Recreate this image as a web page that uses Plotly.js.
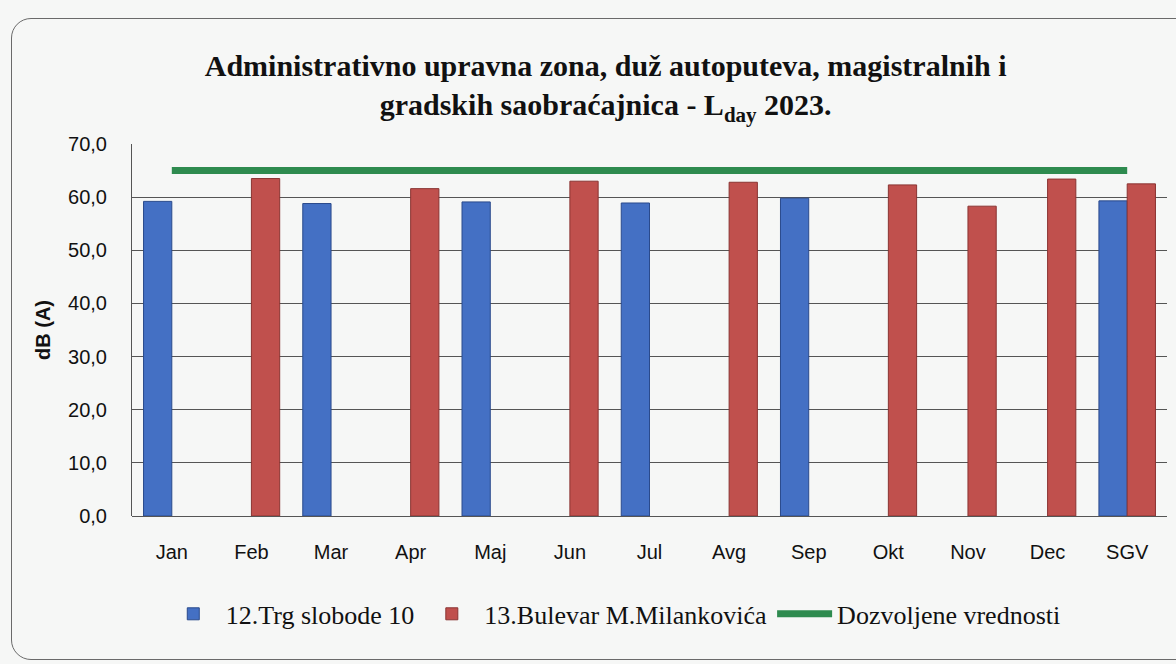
<!DOCTYPE html>
<html>
<head>
<meta charset="utf-8">
<script src="https://cdn.plot.ly/plotly-3.0.1.min.js"></script>
<style>
html,body{margin:0;padding:0;background:#f6f7f6;}
#frame{position:absolute;left:11px;top:18px;width:1220px;height:640px;border:1.5px solid #6a6a6a;border-radius:20px;}
#chart{position:absolute;left:0;top:0;width:1176px;height:664px;}
</style>
</head>
<body>
<div id="frame"></div>
<div id="chart"></div>
<script>
const categories = ["Jan","Feb","Mar","Apr","Maj","Jun","Jul","Avg","Sep","Okt","Nov","Dec","SGV"];
const trgSlobode = [59.2, null, 58.8, null, 59.1, null, 58.9, null, 59.8, null, null, null, 59.3];
const bulevar = [null, 63.5, null, 61.6, null, 63.0, null, 62.8, null, 62.3, 58.3, 63.4, 62.5];
const dozvoljene = [65,65,65,65,65,65,65,65,65,65,65,65,65];
const seriesNames = ["12.Trg slobode 10", "13.Bulevar M.Milankovića", "Dozvoljene vrednosti"];

const traces = [
  {type:"bar", name:seriesNames[0], x:categories, y:trgSlobode,
   marker:{color:"#4470c4", line:{color:"#2a4a8c", width:1}}},
  {type:"bar", name:seriesNames[1], x:categories, y:bulevar,
   marker:{color:"#c0504d", line:{color:"#8a3432", width:1}}},
  {type:"scatter", mode:"lines", name:seriesNames[2], x:categories, y:dozvoljene,
   line:{color:"#2e8b4f", width:7}}
];

const layout = {
  width:1176, height:664,
  paper_bgcolor:"rgba(0,0,0,0)", plot_bgcolor:"rgba(0,0,0,0)",
  margin:{l:132, r:9, t:144, b:148},
  separators:",.",
  barmode:"group", bargap:0.29, bargroupgap:0,
  title:{text:"<b>Administrativno upravna zona, duž autoputeva, magistralnih i<br>gradskih saobraćajnica - L<sub>day</sub> 2023.</b>",
         x:0.515, xanchor:"center", y:0.885, yanchor:"top",
         font:{family:"Liberation Serif, serif", size:30, color:"#111"}},
  xaxis:{type:"category", showgrid:false, showline:false, zeroline:false,
         ticks:"", tickfont:{family:"Liberation Sans, Arial, sans-serif", size:20, color:"#111"},
         ticklabelstandoff:22},
  yaxis:{range:[0,70], dtick:10, tickformat:".1f", showgrid:true, gridcolor:"#555", gridwidth:1,
         showline:true, linecolor:"#555", linewidth:1, zeroline:true, zerolinecolor:"#555", zerolinewidth:1,
         ticks:"", ticklabelstandoff:20,
         tickfont:{family:"Liberation Sans, Arial, sans-serif", size:20, color:"#111"},
         title:{text:"<b>dB (A)</b>", standoff:12, font:{family:"Liberation Sans, Arial, sans-serif", size:20, color:"#111"}}},
  legend:{orientation:"h", x:0.465, xanchor:"center", y:-0.2, yanchor:"top",
          font:{family:"Liberation Serif, serif", size:26, color:"#111"},
          bgcolor:"rgba(0,0,0,0)", itemwidth:55, tracegroupgap:0},
  showlegend:true
};

Plotly.newPlot("chart", traces, layout, {displayModeBar:false, staticPlot:true});
</script>
</body>
</html>
